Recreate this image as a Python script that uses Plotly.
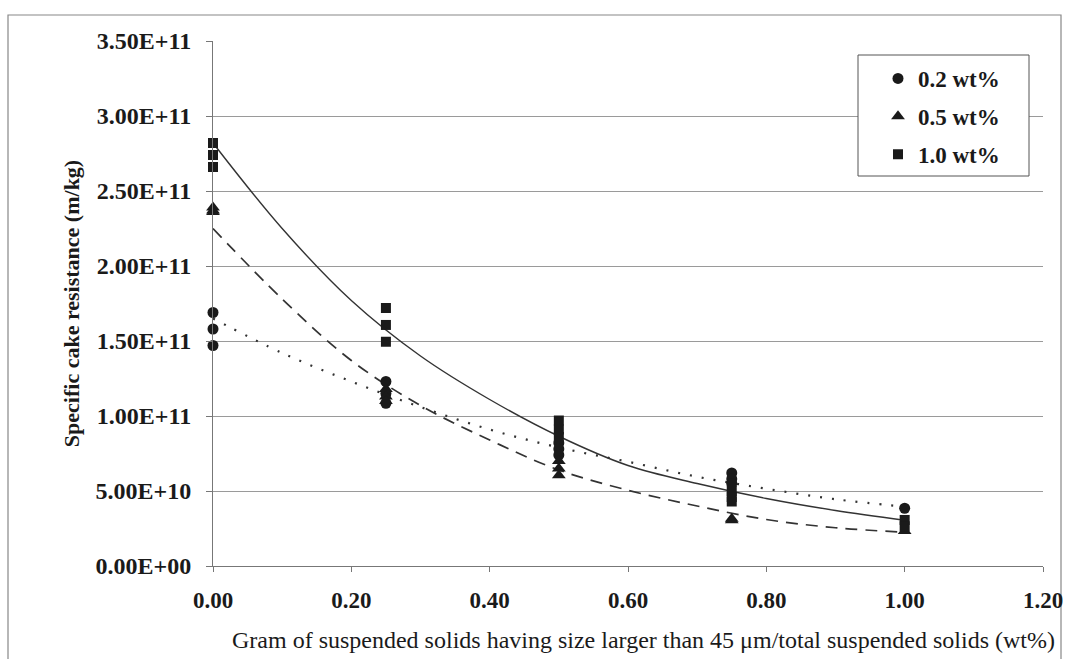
import plotly.graph_objects as go

# ---- data ----
# measured points (three replicates per level)
x_02 = [0.0, 0.0, 0.0, 0.25, 0.25, 0.25, 0.5, 0.5, 0.5, 0.75, 0.75, 0.75, 1.0]
y_02 = [1.69e11, 1.58e11, 1.47e11, 1.23e11, 1.15e11, 1.085e11,
        8.2e10, 7.8e10, 7.4e10, 6.2e10, 5.8e10, 5.5e10, 3.85e10]

x_05 = [0.0, 0.0, 0.0, 0.25, 0.25, 0.25, 0.5, 0.5, 0.5, 0.75, 0.75, 1.0]
y_05 = [2.39e11, 2.37e11, 2.36e11, 1.18e11, 1.13e11, 1.10e11,
        7.0e10, 6.5e10, 6.05e10, 3.15e10, 3.05e10, 2.33e10]

x_10 = [0.0, 0.0, 0.0, 0.25, 0.25, 0.25, 0.5, 0.5, 0.5, 0.75, 0.75, 0.75, 1.0, 1.0]
y_10 = [2.82e11, 2.74e11, 2.66e11, 1.72e11, 1.607e11, 1.495e11,
        9.7e10, 9.1e10, 8.6e10, 5.0e10, 4.6e10, 4.3e10, 3.07e10, 2.65e10]

# trend curves
x_curve = [0.0, 0.1, 0.2, 0.3, 0.4, 0.5, 0.6, 0.7, 0.8, 0.9, 1.0]
curve_02 = [1.65e11, 1.42e11, 1.23e11, 1.06e11, 9.1e10, 7.9e10, 6.95e10, 5.95e10, 5.15e10, 4.45e10, 3.95e10]
curve_05 = [2.25e11, 1.78e11, 1.37e11, 1.07e11, 8.4e10, 6.4e10, 5.05e10, 4.0e10, 3.1e10, 2.55e10, 2.25e10]
curve_10 = [2.82e11, 2.25e11, 1.77e11, 1.40e11, 1.11e11, 8.65e10, 6.7e10, 5.5e10, 4.5e10, 3.7e10, 3.05e10]

series_names = ["0.2 wt%", "0.5 wt%", "1.0 wt%"]

y_tickvals = [0, 5e10, 1e11, 1.5e11, 2e11, 2.5e11, 3e11, 3.5e11]
y_ticktext = ["0.00E+00", "5.00E+10", "1.00E+11", "1.50E+11",
              "2.00E+11", "2.50E+11", "3.00E+11", "3.50E+11"]
x_tickvals = [0.0, 0.2, 0.4, 0.6, 0.8, 1.0, 1.2]
x_ticktext = ["0.00", "0.20", "0.40", "0.60", "0.80", "1.00", "1.20"]

x_title = "Gram of suspended solids having size larger than 45 \u03bcm/total suspended solids (wt%)"
y_title = "Specific cake resistance (m/kg)"

SERIF = "Liberation Serif"
INK = "#1a1a1a"

fig = go.Figure()

# curves (not in legend)
fig.add_trace(go.Scatter(x=x_curve, y=curve_02, mode="lines", line_shape="spline",
                         line=dict(color="#333333", width=2.2, dash="2px,10px"),
                         showlegend=False, hoverinfo="skip"))
fig.add_trace(go.Scatter(x=x_curve, y=curve_05, mode="lines", line_shape="spline",
                         line=dict(color="#333333", width=1.7, dash="12px,8px"),
                         showlegend=False, hoverinfo="skip"))
fig.add_trace(go.Scatter(x=x_curve, y=curve_10, mode="lines", line_shape="spline",
                         line=dict(color="#333333", width=1.4),
                         showlegend=False, hoverinfo="skip"))

# markers
for xs, ys, name, sym, sz in [(x_02, y_02, series_names[0], "circle", 11),
                              (x_05, y_05, series_names[1], "triangle-up", 12),
                              (x_10, y_10, series_names[2], "square", 10)]:
    fig.add_trace(go.Scatter(x=xs, y=ys, mode="markers", name=name,
                             legendgroup=name, cliponaxis=False,
                             marker=dict(symbol=sym, size=sz, color=INK)))

W, H = 1069, 659
L, R, T, B = 213, 26, 41, 93
pw, ph = W - L - R, H - T - B

def px_x(p):
    return (p - L) / pw

def px_y(p):
    return (H - B - p) / ph

fig.update_layout(
    width=W, height=H,
    margin=dict(l=L, r=R, t=T, b=B),
    paper_bgcolor="white", plot_bgcolor="white",
    font=dict(family=SERIF, size=24, color=INK),
    legend=dict(x=px_x(878), y=px_y(57), xanchor="left", yanchor="top",
                borderwidth=0, bgcolor="rgba(0,0,0,0)",
                font=dict(family=SERIF, size=23, color=INK, weight="bold"),
                tracegroupgap=5, itemwidth=30),
    showlegend=True,
)

fig.update_xaxes(range=[0, 1.2], tickvals=x_tickvals, ticktext=x_ticktext,
                 showgrid=False, zeroline=False, showline=True, linecolor="#777777",
                 linewidth=1, ticks="outside", ticklen=5, tickcolor="#777777",
                 ticklabelstandoff=8,
                 tickfont=dict(family=SERIF, size=23, color=INK, weight="bold"),
                 automargin=False)
fig.update_yaxes(range=[0, 3.5e11], tickvals=y_tickvals, ticktext=y_ticktext,
                 showgrid=True, gridcolor="#9a9a9a", gridwidth=1, zeroline=False,
                 showline=True, linecolor="#777777", linewidth=1,
                 ticks="outside", ticklen=6, tickcolor="#777777",
                 ticklabelstandoff=10,
                 tickfont=dict(family=SERIF, size=24, color=INK, weight="bold"),
                 title=dict(text=y_title,
                            font=dict(family=SERIF, size=22, color=INK, weight="bold"), standoff=9),
                 automargin=False)

# x-axis title (placed to match the reference's offset centre)
fig.add_annotation(text=x_title, xref="paper", yref="paper",
                   x=px_x(643), y=px_y(640), xanchor="center", yanchor="middle",
                   showarrow=False, font=dict(family=SERIF, size=24, color=INK))

# legend frame
fig.add_shape(type="rect", xref="paper", yref="paper",
              x0=px_x(858), x1=px_x(1029), y0=px_y(176), y1=px_y(55),
              line=dict(color="#555555", width=1), fillcolor="white", layer="above")

# outer chart border
fig.add_shape(type="rect", xref="paper", yref="paper",
              x0=px_x(8), x1=px_x(1061), y0=px_y(672), y1=px_y(15),
              line=dict(color="#888888", width=1.2), layer="below")

fig.write_html("out.html")
